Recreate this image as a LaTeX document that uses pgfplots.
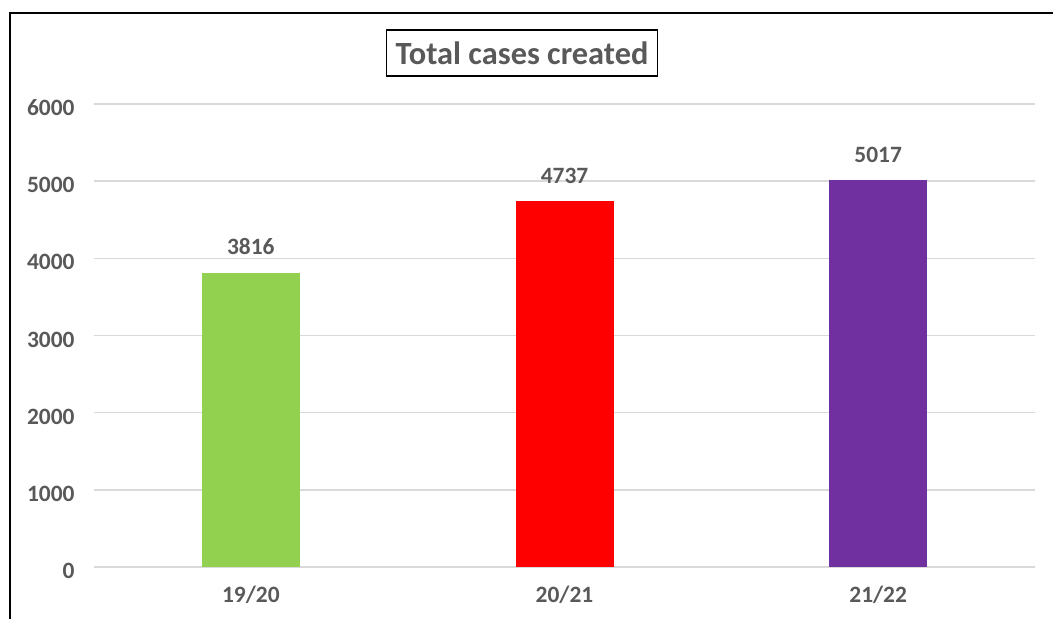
\documentclass[border=0pt]{standalone}
\usepackage{pgfplots}
\pgfplotsset{compat=1.18}
\usepackage{fontspec}
\setmainfont{Carlito}
\definecolor{txt}{HTML}{595959}
\definecolor{gridc}{HTML}{D9D9D9}
\definecolor{cgreen}{HTML}{92D050}
\definecolor{cred}{HTML}{FF0000}
\definecolor{cpurple}{HTML}{7030A0}
\begin{document}
\begin{tikzpicture}[x=1bp,y=1bp]
\path[use as bounding box] (0,0) rectangle (1053,619);
\draw[line width=2.2bp] (10,0) -- (10,606) -- (1053,606);
\begin{axis}[
  at={(94bp,52bp)}, anchor=south west,
  scale only axis, width=941bp, height=463bp,
  xmin=-0.5, xmax=2.5, ymin=0, ymax=6000,
  ytick={0,1000,2000,3000,4000,5000,6000},
  xtick={0,1,2}, xticklabels={19/20,20/21,21/22},
  axis line style={draw=none},
  ymajorgrids, grid style={gridc, line width=1.6bp},
  major tick length=0pt,
  tick label style={font=\fontsize{23.5}{26}\selectfont\bfseries, text=txt},
  /pgf/number format/assume math mode=true,
  /pgf/number format/1000 sep={},
  yticklabel style={xshift=-16bp, yshift=-4bp},
  xticklabel style={yshift=-16bp},
  ybar, bar width=98bp, bar shift=0pt,
  nodes near coords,
  every node near coord/.append style={font=\fontsize{23.5}{26}\selectfont\bfseries, text=txt, yshift=14bp, /pgf/number format/assume math mode=true, /pgf/number format/1000 sep={}},
  clip=false,
]
\addplot[fill=cgreen, draw=none] coordinates {(0,3816)};
\addplot[fill=cred, draw=none] coordinates {(1,4737)};
\addplot[fill=cpurple, draw=none] coordinates {(2,5017)};
\end{axis}
\node[draw=black, line width=1.2bp, inner xsep=9bp, minimum height=46bp, font=\fontsize{32.5}{35}\selectfont\bfseries, text=txt] at (522,566) {Total cases created};
\end{tikzpicture}
\end{document}
